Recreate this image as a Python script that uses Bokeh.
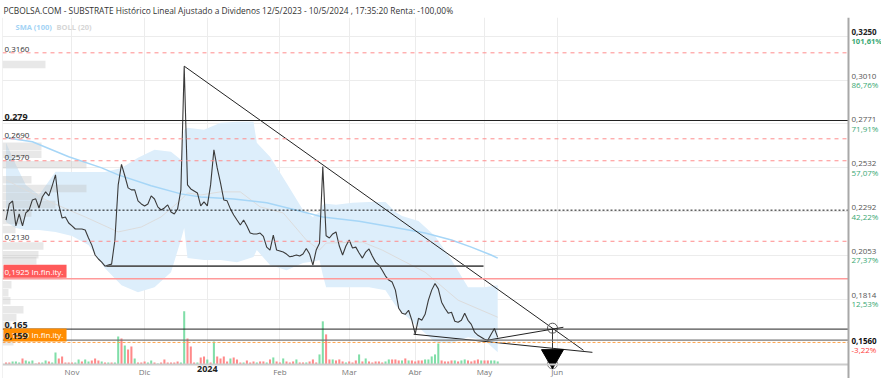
from bokeh.plotting import figure
from bokeh.models import Range1d, FixedTicker, Span, Label, BoxAnnotation
from bokeh.embed import file_html
from bokeh.resources import INLINE

TITLE = "PCBOLSA.COM - SUBSTRATE Histórico Lineal Ajustado a Dividenos 12/5/2023 - 10/5/2024 , 17:35:20 Renta: -100,00%"

# x axis: trading-day index, month ticks
month_ticks = [20, 42, 61, 83, 104, 124, 145, 167]
month_labels = ["Nov", "Dic", "2024", "Feb", "Mar", "Abr", "May", "Jun"]

# daily closes (trading-day index 0..149)
close = [
    0.2246, 0.2334, 0.2350, 0.2214, 0.2279, 0.2214, 0.2285, 0.2301, 0.2356, 0.2362,
    0.2312, 0.2372, 0.2400, 0.2378, 0.2433, 0.2493, 0.2329, 0.2257, 0.2263, 0.2230,
    0.2214, 0.2197, 0.2197, 0.2197, 0.2192, 0.2148, 0.2109, 0.2055, 0.2033, 0.2016,
    0.1994, 0.2000, 0.2005, 0.2137, 0.2438, 0.2550, 0.2488, 0.2422, 0.2411, 0.2411,
    0.2351, 0.2334, 0.2323, 0.2334, 0.2378, 0.2361, 0.2318, 0.2301, 0.2312, 0.2329,
    0.2290, 0.2279, 0.2307, 0.2411, 0.3087, 0.2438, 0.2416, 0.2405, 0.2394, 0.2323,
    0.2345, 0.2323, 0.2438, 0.2630, 0.2531, 0.2449, 0.2356, 0.2351, 0.2307, 0.2274,
    0.2246, 0.2219, 0.2246, 0.2214, 0.2175, 0.2170, 0.2170, 0.2175, 0.2157, 0.2098,
    0.2082, 0.2164, 0.2082, 0.2077, 0.2071, 0.2060, 0.2045, 0.2049, 0.2055, 0.2049,
    0.2060, 0.2091, 0.2060, 0.2000, 0.2082, 0.2119, 0.2538, 0.2160, 0.2148, 0.2170,
    0.2181, 0.2104, 0.2055, 0.2104, 0.2137, 0.2093, 0.2098, 0.2066, 0.2038, 0.2071,
    0.2088, 0.2049, 0.2016, 0.2000, 0.1972, 0.1940, 0.1918, 0.1907, 0.1863, 0.1764,
    0.1737, 0.1731, 0.1753, 0.1698, 0.1622, 0.1709, 0.1698, 0.1731, 0.1808, 0.1863,
    0.1899, 0.1870, 0.1797, 0.1764, 0.1737, 0.1742, 0.1693, 0.1687, 0.1698, 0.1737,
    0.1698, 0.1676, 0.1633, 0.1616, 0.1605, 0.1594, 0.1589, 0.1622, 0.1653, 0.1605,
]

# daily volume (relative units) and up/down flag
volume = [
    2, 2, 3, 3, 2, 6, 4, 3, 4, 1, 2, 2, 4, 3, 2, 12, 6, 8, 2, 2,
    2, 2, 5, 3, 5, 3, 4, 6, 4, 3, 2, 2, 2, 2, 28, 26, 19, 15, 18, 6,
    2, 2, 3, 2, 4, 2, 1, 2, 5, 2, 2, 2, 3, 2, 53, 26, 18, 2, 2, 7,
    8, 5, 2, 23, 8, 6, 8, 3, 6, 7, 5, 2, 2, 4, 2, 3, 2, 3, 3, 2,
    5, 7, 3, 2, 6, 3, 2, 3, 5, 2, 2, 2, 3, 5, 2, 10, 43, 30, 5, 5,
    4, 5, 3, 2, 3, 2, 4, 10, 3, 6, 3, 2, 3, 3, 2, 3, 5, 5, 5, 4,
    4, 6, 4, 4, 3, 4, 4, 5, 5, 8, 10, 21, 4, 3, 3, 4, 4, 3, 4, 5,
    4, 3, 4, 5, 4, 4, 4, 4, 4, 3,
]
vol_up = [
    0, 0, 1, 1, 1, 0, 1, 1, 1, 0, 0, 1, 1, 0, 1, 1, 0, 0, 0, 0,
    0, 1, 1, 0, 1, 1, 0, 0, 0, 1, 0, 1, 0, 1, 1, 0, 1, 0, 0, 1,
    0, 0, 0, 1, 1, 0, 1, 0, 0, 0, 0, 0, 0, 1, 1, 0, 0, 0, 1, 0,
    0, 1, 0, 1, 0, 0, 0, 0, 1, 0, 0, 0, 1, 0, 0, 0, 1, 0, 0, 1,
    0, 1, 0, 0, 1, 0, 0, 0, 1, 0, 0, 1, 0, 0, 0, 1, 1, 0, 0, 1,
    0, 0, 0, 1, 0, 0, 0, 1, 0, 1, 0, 0, 0, 0, 0, 1, 1, 0, 0, 0,
    1, 0, 1, 0, 0, 0, 0, 1, 1, 1, 1, 1, 0, 0, 0, 0, 1, 0, 1, 1,
    0, 0, 0, 0, 1, 0, 0, 1, 1, 1,
]

# Bollinger (20) band edges and middle line
band_idx = [0, 3, 6, 10, 15, 20, 25, 30, 35, 40, 45, 50, 53, 54, 55, 60, 65, 70, 75, 76,
            80, 85, 90, 93, 95, 96, 97, 100, 105, 110, 115, 118, 120, 125, 130, 135, 140, 145, 149]
band_upper = [0.2668, 0.2548, 0.2438, 0.2383, 0.2510, 0.2509, 0.2509, 0.2509, 0.2531, 0.2586,
              0.2630, 0.2619, 0.2575, 0.2740, 0.2751, 0.2740, 0.2778, 0.2783, 0.2783, 0.2668,
              0.2592, 0.2449, 0.2301, 0.2263, 0.2290, 0.2329, 0.2335, 0.2329, 0.2340, 0.2345,
              0.2345, 0.2290, 0.2268, 0.2241, 0.2159, 0.2027, 0.1879, 0.1879, 0.1890]
band_lower = [0.2235, 0.2203, 0.2192, 0.2192, 0.2181, 0.2159, 0.2109, 0.1983, 0.1890, 0.1852,
              0.1879, 0.1961, 0.2137, 0.2203, 0.2038, 0.2027, 0.2027, 0.2016, 0.2044, 0.2082,
              0.2000, 0.1972, 0.2011, 0.2020, 0.2027, 0.1945, 0.1879, 0.1879, 0.1879, 0.1879,
              0.1863, 0.1781, 0.1742, 0.1660, 0.1578, 0.1572, 0.1605, 0.1589, 0.1523]
mid_idx = [0, 4, 14, 24, 34, 41, 47, 53, 55, 59, 65, 71, 77, 84, 91, 95, 97, 108, 114, 127, 137, 149]
mid_val = [0.2466, 0.2427, 0.2340, 0.2263, 0.2181, 0.2208, 0.2263, 0.2356, 0.2394, 0.2383,
           0.2400, 0.2400, 0.2318, 0.2285, 0.2137, 0.2082, 0.2120, 0.2126, 0.2082, 0.1961,
           0.1808, 0.1715]

# SMA (100)
sma_idx = [0, 8, 19, 29, 34, 44, 53, 59, 69, 79, 89, 96, 107, 117, 127, 135, 141, 147, 149]
sma_val = [0.2696, 0.2674, 0.2592, 0.2531, 0.2493, 0.2433, 0.2389, 0.2372, 0.2361, 0.2340,
           0.2295, 0.2263, 0.2240, 0.2208, 0.2175, 0.2137, 0.2098, 0.2055, 0.2038]

# volume-by-price profile (left)
vp_price = [0.3096, 0.2649, 0.2605, 0.2548, 0.2466, 0.2419, 0.2375, 0.2331, 0.2285, 0.2244,
            0.2194, 0.2104, 0.2057, 0.2024, 0.1975, 0.1942, 0.1893, 0.1849, 0.1805, 0.1756,
            0.1712, 0.1668, 0.1627, 0.1581]
vp_volume = [43, 39, 39, 84, 29, 84, 41, 53, 29, 21, 13, 41, 36, 34, 16, 60, 9, 6, 8, 21,
             14, 8, 36, 11]

# right scale
right_tick_values = [0.3250, 0.3010, 0.2771, 0.2532, 0.2292, 0.2053, 0.1814]
right_tick_text = ["0,3250", "0,3010", "0,2771", "0,2532", "0,2292", "0,2053", "0,1814"]
right_tick_pct = ["101,61%", "86,76%", "71,91%", "57,07%", "42,22%", "27,37%", "12,53%"]
last_level = 0.1577
last_text = "0,1560"
last_pct = "-3,22%"

# horizontal levels
red_dash_levels = [0.3160, 0.2690, 0.2570, 0.2130]
red_dash_text = ["0,3160", "0,2690", "0,2570", "0,2130"]
black_levels = [0.279, 0.165, 0.159]
black_text = ["0,279", "0,165", "0,159"]
dotted_level = 0.2300
red_inf_level = 0.1925
red_inf_text = "0,1925  In.fin.ity."
orange_inf_level = 0.1577
orange_inf_text = "0,1560  In.fin.ity."

# drawn trend lines
trend_x0 = [54, 123.5, 145.8]
trend_y0 = [0.3087, 0.1622, 0.1589]
trend_x1 = [175.0, 177.7, 168.9]
trend_y1 = [0.1534, 0.1523, 0.1660]
support_x0, support_x1, support_level = 30.4, 144.7, 0.1994
target_x = 165.6
target_hit = 0.1655
target_arrow_end = 0.1540
target_tri = 0.1503
target_low = 0.1460

FONT = "Open Sans"
X0, X1 = -1.06, 265.3      # frame spans the price area and the right scale column
XAXIS = 255.3              # position of the price scale line
Y0, Y1 = 0.1380, 0.3353    # frame spans down to the canvas bottom
YAX = 0.1457               # position of the time axis line

p = figure(width=881, height=378, x_range=Range1d(X0, X1), y_range=Range1d(Y0, Y1),
           y_axis_location=None, output_backend="svg", toolbar_location=None,
           min_border_left=2, min_border_right=0, min_border_top=0, min_border_bottom=0)
p.extra_y_ranges = {"vol": Range1d(-14, 346)}
p.extra_x_ranges = {"vp": Range1d(0, 879)}
p.outline_line_color = None
p.background_fill_color = "white"

p.title.text = TITLE
p.title.text_font = FONT
p.title.text_font_size = "8.4px"
p.title.text_font_style = "normal"
p.title.text_color = "#333333"
p.title.align = "left"
p.title.standoff = 4
p.title.offset = 1

# time axis, pinned at the bottom of the price area
xa = p.xaxis[0]
xa.fixed_location = YAX
xa.ticker = FixedTicker(ticks=month_ticks)
xa.major_label_overrides = {t: ("" if l == "2024" else l) for t, l in zip(month_ticks, month_labels)}
xa.major_label_text_font = FONT
xa.major_label_text_font_size = "8px"
xa.major_label_text_color = "#777777"
xa.major_label_standoff = 2
xa.axis_line_color = "#cccccc"
xa.axis_line_width = 2
xa.major_tick_line_color = None
xa.minor_tick_line_color = None
xa.major_tick_out = 0
xa.major_tick_in = 0
xa.minor_tick_out = 0
xa.minor_tick_in = 0

p.xgrid.ticker = FixedTicker(ticks=month_ticks)
p.ygrid.ticker = FixedTicker(ticks=right_tick_values)
p.xgrid.grid_line_color = "#ececec"
p.ygrid.grid_line_color = "#ececec"
# keep the label strip under the time axis clean
p.add_layout(BoxAnnotation(top=YAX, fill_color="white", fill_alpha=1.0, line_color=None,
                           level="underlay"))

# indicators
p.varea(x=band_idx, y1=band_lower, y2=band_upper, fill_color="#ddeefb", fill_alpha=1.0)
p.hbar(y=vp_price, left=0, right=vp_volume, height=0.0041, x_range_name="vp",
       fill_color="#bdbdbd", fill_alpha=0.35, line_color=None)
p.line(mid_idx, mid_val, line_color="#dcdcdc", line_width=1)
p.line(sma_idx, sma_val, line_color="#a6d6f7", line_width=1.5)

idx = list(range(len(close)))
vcolors = ["#80dea8" if u else "#ff8a8a" for u in vol_up]
p.vbar(x=idx, top=volume, bottom=0, width=0.62, y_range_name="vol",
       fill_color=vcolors, line_color=None)

p.line(idx, close, line_color="#3a3a3a", line_width=1.1)

p.segment(x0=trend_x0, y0=trend_y0, x1=trend_x1, y1=trend_y1, line_color="#222222", line_width=1)
p.segment(x0=[support_x0], y0=[support_level], x1=[support_x1], y1=[support_level],
          line_color="#555555", line_width=1.6)
p.segment(x0=[target_x], y0=[target_hit], x1=[target_x], y1=[target_arrow_end],
          line_color="#333333", line_width=1)
p.scatter([target_x], [target_hit], marker="circle", size=10, fill_color=None,
          line_color="#555555", line_width=1)
p.scatter([target_x], [target_low], marker="circle", size=10, fill_color=None,
          line_color="#777777", line_width=1)
p.scatter([target_x], [target_tri], marker="inverted_triangle", size=22,
          fill_color="#000000", line_color="#000000")

# horizontal level lines
for lv in red_dash_levels:
    p.add_layout(Span(location=lv, dimension="width", line_color="#ff8c8c",
                      line_dash="4 4", line_width=1))
for lv in black_levels[:2]:
    p.add_layout(Span(location=lv, dimension="width", line_color="#222222", line_width=1))
p.add_layout(Span(location=black_levels[2], dimension="width", line_color="#777777", line_width=1.2))
p.add_layout(Span(location=dotted_level, dimension="width", line_color="#111111",
                  line_dash="2 2", line_width=1))
p.add_layout(Span(location=red_inf_level, dimension="width", line_color="#ff9a9a", line_width=1.5))
p.add_layout(Span(location=orange_inf_level, dimension="width", line_color="#ffa64d",
                  line_dash="3 2", line_width=1))

# white column for the right price scale, with its axis line; thin left frame edge
p.add_layout(BoxAnnotation(left=XAXIS, fill_color="white", fill_alpha=1.0, line_color=None))
p.add_layout(Span(location=XAXIS, dimension="height", line_color="#a8a8a8", line_width=2))
p.add_layout(Span(location=X0, dimension="height", line_color="#e4e4e4", line_width=1))


def lab(x, y, text, **kw):
    opts = dict(text_font=FONT, text_font_size="8px", text_color="#333333",
                text_baseline="middle", text_align="left")
    opts.update(kw)
    p.add_layout(Label(x=x, y=y, text=text, **opts))


# legend
lab(X0, Y1, "SMA (100)", x_offset=13, y_offset=-9, text_font_size="7.5px",
    text_font_style="bold", text_color="#a3d3f5")
lab(X0, Y1, "BOLL (20)", x_offset=54, y_offset=-9, text_font_size="7.5px",
    text_font_style="bold", text_color="#d6d6d6")

# left level labels
for lv, t in zip(red_dash_levels, red_dash_text):
    lab(X0, lv, t, x_offset=2, y_offset=1, text_baseline="bottom")
lab(X0, red_inf_level, red_inf_text, x_offset=1, y_offset=1, text_baseline="bottom",
    text_color="white", background_fill_color="#ff5a5a", padding=1)
lab(X0, orange_inf_level, orange_inf_text, x_offset=1, y_offset=1, text_baseline="bottom",
    text_color="white", background_fill_color="#ff8c00", padding=1)
for lv, t in zip(black_levels, black_text):
    lab(X0, lv, t, x_offset=2, y_offset=1, text_baseline="bottom",
        text_font_size="9px", text_font_style="bold", text_color="#222222")

# right scale labels
for i, (v, t, pc) in enumerate(zip(right_tick_values, right_tick_text, right_tick_pct)):
    bold = "bold" if i == 0 else "normal"
    lab(XAXIS, v, t, x_offset=3, y_offset=4, text_color="#222222" if i == 0 else "#555555",
        text_font_style=bold)
    lab(XAXIS, v, pc, x_offset=3, y_offset=-4.5, text_color="#3aa874", text_font_style=bold,
        text_font_size="7.6px" if i == 0 else "8px")
lab(XAXIS, last_level, last_text, x_offset=3, y_offset=1, text_color="#111111",
    text_font_style="bold")
lab(XAXIS, last_level, last_pct, x_offset=3, y_offset=-7, text_color="#ff3b3b")

# bold year label on the time axis
lab(month_ticks[2], YAX, "2024", y_offset=-2, text_align="center", text_baseline="top",
    text_font_size="9px", text_font_style="bold", text_color="#222222")

open("out.html", "w").write(file_html(p, INLINE))
